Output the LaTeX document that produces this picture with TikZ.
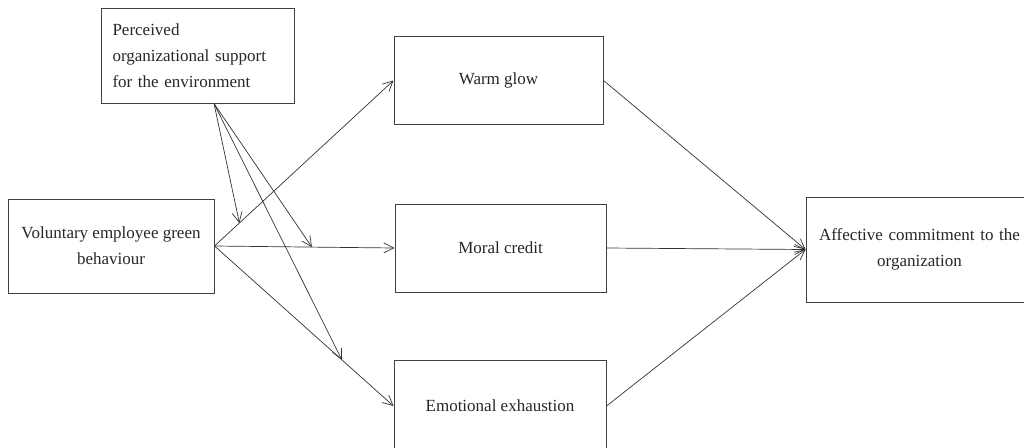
\documentclass[tikz,border=0pt]{standalone}
\usepackage{fontspec}
\setmainfont{Liberation Serif}
\usetikzlibrary{arrows.meta,calc}
\begin{document}
\begin{tikzpicture}[x=1pt,y=-1pt,
  box/.style={draw=black!75,line width=1pt,rectangle,inner sep=0pt,text=black!85,
    font=\fontsize{17}{26}\selectfont,align=center},
  conn/.style={draw=black!80,line width=0.7pt,-{Straight Barb[length=10pt,width=10pt,line width=0.7pt]}}]
\useasboundingbox (0,0) rectangle (1024,447);
\clip (0,0) rectangle (1024,447);
\node[box,minimum width=193pt,minimum height=95pt,text width=170pt,align=left] (pos) at (197.5,55.5)
  {Perceived\\organizational support\\for the environment};
\node[box,minimum width=206pt,minimum height=94pt] (veg) at (111,246)
  {Voluntary employee green\\behaviour};
\node[box,minimum width=209pt,minimum height=88pt] (wg) at (498.5,80.5) {Warm glow};
\node[box,minimum width=211pt,minimum height=88pt] (mc) at (500.5,248) {Moral credit};
\node[box,minimum width=212pt,minimum height=92pt] (ee) at (500,406) {Emotional exhaustion};
\node[box,minimum width=240pt,minimum height=105pt,text width=240pt] (ac) at (926,249.5)
  {\hspace*{-13pt}Affective commitment to the\\\hspace*{-13pt}organization};
\coordinate (posb) at ([xshift=16.5pt]pos.south);
\draw[conn] (veg.east) -- (wg.west);
\draw[conn] (veg.east) -- (mc.west);
\draw[conn] (veg.east) -- (ee.west);
\draw[conn] (wg.east) -- (ac.west);
\draw[conn] (mc.east) -- (ac.west);
\draw[conn] (ee.east) -- (ac.west);
\coordinate (m1) at ($(veg.east)!0.139!(wg.west)$);
\coordinate (m2) at ($(veg.east)!0.541!(mc.west)$);
\coordinate (m3) at ($(veg.east)!0.711!(ee.west)$);
\draw[conn] (posb) -- (m1);
\draw[conn] (posb) -- (m2);
\draw[conn] (posb) -- (m3);
\end{tikzpicture}
\end{document}
